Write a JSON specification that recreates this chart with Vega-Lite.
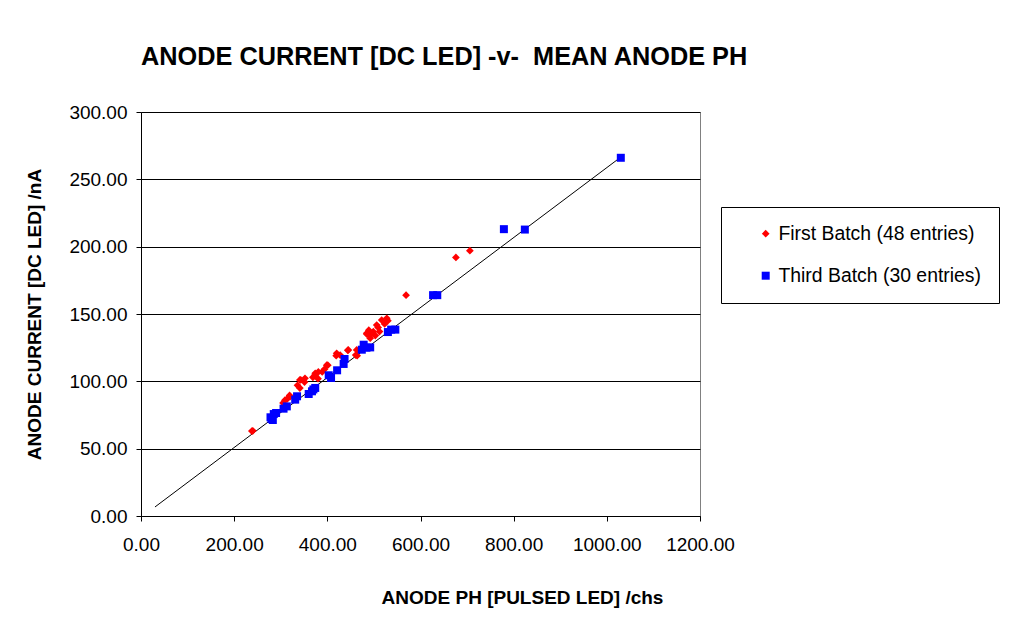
{
  "$schema": "https://vega.github.io/schema/vega-lite/v6.json",
  "width": 559,
  "height": 404,
  "autosize": "none",
  "padding": {"left": 141, "top": 112, "right": 319, "bottom": 115},
  "background": "white",
  "title": {
    "text": "ANODE CURRENT [DC LED] -v-\u00a0 MEAN ANODE PH",
    "anchor": "start",
    "frame": "group",
    "font": "Liberation Sans",
    "fontSize": 25.3,
    "fontWeight": "bold",
    "color": "black",
    "baseline": "alphabetic",
    "offset": 13
  },
  "config": {
    "font": "Liberation Sans",
    "view": {"stroke": "#808080", "strokeWidth": 1},
    "axis": {
      "labelFont": "Liberation Sans",
      "labelFontSize": 19,
      "labelColor": "black",
      "labelOverlap": false,
      "labelFlush": false,
      "titleFont": "Liberation Sans",
      "titleFontSize": 19,
      "titleFontWeight": "bold",
      "titleColor": "black",
      "domainColor": "black",
      "tickColor": "black",
      "tickSize": 5,
      "format": ".2f"
    }
  },
  "datasets": {
    "fit": [
      {"ph": 30, "current": 6.7},
      {"ph": 1030, "current": 266.5}
    ],
    "points": [
      {"batch": "First Batch (48 entries)", "ph": 238, "current": 63.1},
      {"batch": "First Batch (48 entries)", "ph": 240, "current": 63.3},
      {"batch": "First Batch (48 entries)", "ph": 305, "current": 84},
      {"batch": "First Batch (48 entries)", "ph": 309, "current": 86},
      {"batch": "First Batch (48 entries)", "ph": 314, "current": 87},
      {"batch": "First Batch (48 entries)", "ph": 319, "current": 89.5},
      {"batch": "First Batch (48 entries)", "ph": 320, "current": 88.6},
      {"batch": "First Batch (48 entries)", "ph": 336, "current": 97},
      {"batch": "First Batch (48 entries)", "ph": 341, "current": 101},
      {"batch": "First Batch (48 entries)", "ph": 341, "current": 95},
      {"batch": "First Batch (48 entries)", "ph": 343, "current": 101},
      {"batch": "First Batch (48 entries)", "ph": 351, "current": 99.5},
      {"batch": "First Batch (48 entries)", "ph": 352, "current": 102.2},
      {"batch": "First Batch (48 entries)", "ph": 369, "current": 103},
      {"batch": "First Batch (48 entries)", "ph": 373.6, "current": 104.7},
      {"batch": "First Batch (48 entries)", "ph": 374, "current": 106},
      {"batch": "First Batch (48 entries)", "ph": 380, "current": 102},
      {"batch": "First Batch (48 entries)", "ph": 380.7, "current": 107},
      {"batch": "First Batch (48 entries)", "ph": 389, "current": 107},
      {"batch": "First Batch (48 entries)", "ph": 394, "current": 109},
      {"batch": "First Batch (48 entries)", "ph": 398.7, "current": 112},
      {"batch": "First Batch (48 entries)", "ph": 401, "current": 112},
      {"batch": "First Batch (48 entries)", "ph": 419, "current": 119},
      {"batch": "First Batch (48 entries)", "ph": 420, "current": 120.8},
      {"batch": "First Batch (48 entries)", "ph": 427.5, "current": 119.5},
      {"batch": "First Batch (48 entries)", "ph": 444, "current": 123},
      {"batch": "First Batch (48 entries)", "ph": 445, "current": 123.3},
      {"batch": "First Batch (48 entries)", "ph": 461, "current": 119.5},
      {"batch": "First Batch (48 entries)", "ph": 463, "current": 123.3},
      {"batch": "First Batch (48 entries)", "ph": 464, "current": 119},
      {"batch": "First Batch (48 entries)", "ph": 484.5, "current": 135.7},
      {"batch": "First Batch (48 entries)", "ph": 485, "current": 135},
      {"batch": "First Batch (48 entries)", "ph": 489, "current": 138},
      {"batch": "First Batch (48 entries)", "ph": 491.6, "current": 134.4},
      {"batch": "First Batch (48 entries)", "ph": 492, "current": 132},
      {"batch": "First Batch (48 entries)", "ph": 497, "current": 136},
      {"batch": "First Batch (48 entries)", "ph": 498.7, "current": 136.9},
      {"batch": "First Batch (48 entries)", "ph": 503, "current": 134},
      {"batch": "First Batch (48 entries)", "ph": 506, "current": 141.8},
      {"batch": "First Batch (48 entries)", "ph": 509, "current": 140},
      {"batch": "First Batch (48 entries)", "ph": 512, "current": 137},
      {"batch": "First Batch (48 entries)", "ph": 516.7, "current": 145.5},
      {"batch": "First Batch (48 entries)", "ph": 523, "current": 142.6},
      {"batch": "First Batch (48 entries)", "ph": 527.6, "current": 146.8},
      {"batch": "First Batch (48 entries)", "ph": 530, "current": 145},
      {"batch": "First Batch (48 entries)", "ph": 569, "current": 164},
      {"batch": "First Batch (48 entries)", "ph": 676, "current": 192},
      {"batch": "First Batch (48 entries)", "ph": 706, "current": 197},
      {"batch": "Third Batch (30 entries)", "ph": 278, "current": 73.3},
      {"batch": "Third Batch (30 entries)", "ph": 280, "current": 72},
      {"batch": "Third Batch (30 entries)", "ph": 283, "current": 71.3},
      {"batch": "Third Batch (30 entries)", "ph": 285, "current": 75.7},
      {"batch": "Third Batch (30 entries)", "ph": 290, "current": 76.5},
      {"batch": "Third Batch (30 entries)", "ph": 306, "current": 79.7},
      {"batch": "Third Batch (30 entries)", "ph": 313, "current": 81.4},
      {"batch": "Third Batch (30 entries)", "ph": 331, "current": 86.4},
      {"batch": "Third Batch (30 entries)", "ph": 335, "current": 88.9},
      {"batch": "Third Batch (30 entries)", "ph": 360, "current": 90.6},
      {"batch": "Third Batch (30 entries)", "ph": 367, "current": 92.6},
      {"batch": "Third Batch (30 entries)", "ph": 370, "current": 94},
      {"batch": "Third Batch (30 entries)", "ph": 374, "current": 95.1},
      {"batch": "Third Batch (30 entries)", "ph": 403, "current": 104.5},
      {"batch": "Third Batch (30 entries)", "ph": 408, "current": 102.5},
      {"batch": "Third Batch (30 entries)", "ph": 421, "current": 108.2},
      {"batch": "Third Batch (30 entries)", "ph": 435, "current": 112.9},
      {"batch": "Third Batch (30 entries)", "ph": 437, "current": 116.6},
      {"batch": "Third Batch (30 entries)", "ph": 474, "current": 123.5},
      {"batch": "Third Batch (30 entries)", "ph": 478, "current": 127.2},
      {"batch": "Third Batch (30 entries)", "ph": 484, "current": 125},
      {"batch": "Third Batch (30 entries)", "ph": 492, "current": 125.2},
      {"batch": "Third Batch (30 entries)", "ph": 530, "current": 136.6},
      {"batch": "Third Batch (30 entries)", "ph": 537, "current": 138.4},
      {"batch": "Third Batch (30 entries)", "ph": 546, "current": 138.4},
      {"batch": "Third Batch (30 entries)", "ph": 627, "current": 164},
      {"batch": "Third Batch (30 entries)", "ph": 636, "current": 164},
      {"batch": "Third Batch (30 entries)", "ph": 779, "current": 213},
      {"batch": "Third Batch (30 entries)", "ph": 824, "current": 212.7},
      {"batch": "Third Batch (30 entries)", "ph": 1030, "current": 266}
    ]
  },
  "layer": [
    {
      "data": {"name": "fit"},
      "mark": {"type": "line", "color": "black", "strokeWidth": 1},
      "encoding": {
        "x": {"field": "ph", "type": "quantitative"},
        "y": {"field": "current", "type": "quantitative"}
      }
    },
    {
      "data": {"name": "points"},
      "mark": {"type": "point", "filled": true, "opacity": 1},
      "encoding": {
        "x": {
          "field": "ph",
          "type": "quantitative",
          "scale": {"domain": [0, 1200], "nice": false, "zero": false},
          "axis": {
            "title": "ANODE PH [PULSED LED] /chs",
            "titleX": 381,
            "values": [0, 200, 400, 600, 800, 1000, 1200],
            "grid": false,
            "labelPadding": 14,
            "titlePadding": 34
          }
        },
        "y": {
          "field": "current",
          "type": "quantitative",
          "scale": {"domain": [0, 300], "nice": false, "zero": false},
          "axis": {
            "title": "ANODE CURRENT [DC LED] /nA",
            "values": [0, 50, 100, 150, 200, 250, 300],
            "grid": true,
            "gridColor": "black",
            "gridWidth": 1,
            "gridOpacity": 1,
            "labelPadding": 9,
            "titlePadding": 24
          }
        },
        "color": {
          "field": "batch",
          "type": "nominal",
          "scale": {"domain": ["First Batch (48 entries)", "Third Batch (30 entries)"], "range": ["#ff0000", "#0000ff"]},
          "legend": {
            "title": null,
            "orient": "none",
            "legendX": 580,
            "legendY": 95,
            "padding": 17,
            "symbolOffset": 18,
            "rowPadding": 21,
            "labelFont": "Liberation Sans",
            "labelFontSize": 19.4,
            "labelColor": "black",
            "labelOffset": 3,
            "labelLimit": 400,
            "strokeColor": "black",
            "fillColor": "white",
            "symbolOpacity": 1
          }
        },
        "shape": {
          "field": "batch",
          "type": "nominal",
          "scale": {"domain": ["First Batch (48 entries)", "Third Batch (30 entries)"], "range": ["diamond", "square"]}
        },
        "size": {
          "field": "batch",
          "type": "nominal",
          "scale": {"domain": ["First Batch (48 entries)", "Third Batch (30 entries)"], "range": [60, 64]}
        }
      }
    }
  ]
}
